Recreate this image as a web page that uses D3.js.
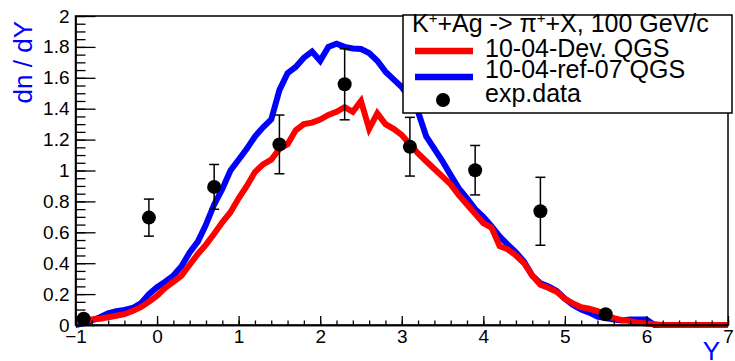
<!DOCTYPE html>
<meta charset="utf-8">
<body style="margin:0;background:#fff">
<svg width="735" height="361"></svg>

<script src="https://cdn.jsdelivr.net/npm/d3@7/dist/d3.min.js"></script>
<script>

// rapidity bin positions
var rapidity = [-1.0,-0.9,-0.8,-0.7,-0.6,-0.5,-0.4,-0.3,-0.2,-0.1,
    0.0,0.1,0.2,0.3,0.4,0.5,0.6,0.7,0.8,0.9,
    1.0,1.1,1.2,1.3,1.4,1.5,1.6,1.7,1.8,1.9,
    2.0,2.1,2.2,2.3,2.4,2.5,2.6,2.7,2.8,2.9,
    3.0,3.1,3.2,3.3,3.4,3.5,3.6,3.7,3.8,3.9,
    4.0,4.1,4.2,4.3,4.4,4.5,4.6,4.7,4.8,4.9,
    5.0,5.1,5.2,5.3,5.4,5.5,5.6,5.7,5.8,5.9,
    6.0,6.1,6.2,6.3,6.4,6.5,6.6,6.7,6.8,6.9,7.0];

// 10-04-ref-07 QGS (blue)
var refQGS = [0.0,0.01,0.03,0.05,0.076,0.09,0.097,0.11,0.14,0.2,
    0.245,0.28,0.32,0.38,0.47,0.54,0.65,0.78,0.88,1.0,
    1.07,1.14,1.22,1.28,1.33,1.52,1.63,1.67,1.73,1.77,
    1.71,1.8,1.82,1.8,1.79,1.786,1.76,1.71,1.64,1.59,
    1.54,1.47,1.38,1.22,1.14,1.06,0.97,0.885,0.82,0.75,
    0.7,0.64,0.573,0.52,0.47,0.41,0.32,0.27,0.25,0.22,
    0.17,0.13,0.1,0.08,0.055,0.045,0.035,0.03,0.035,0.035,
    0.035,0.0,0.0,0.0,0.0,0.0,0.0,0.0,0.0,0.0,0.0];

// 10-04-Dev. QGS (red)
var devQGS = [0.02,0.03,0.035,0.04,0.05,0.06,0.07,0.09,0.115,0.15,
    0.19,0.24,0.28,0.32,0.39,0.46,0.52,0.59,0.665,0.73,
    0.82,0.9,0.99,1.04,1.07,1.14,1.17,1.26,1.3,1.31,
    1.33,1.36,1.38,1.41,1.38,1.45,1.27,1.37,1.3,1.27,
    1.23,1.17,1.11,1.06,1.01,0.96,0.91,0.84,0.78,0.72,
    0.66,0.63,0.51,0.49,0.45,0.4,0.32,0.26,0.24,0.215,
    0.17,0.14,0.115,0.105,0.09,0.065,0.045,0.032,0.025,0.015,
    0.01,0.005,0.0,0.0,0.0,0.0,0.0,0.0,0.0,0.0,0.0];

// exp.data
var expY   = [-0.9, -0.1, 0.7, 1.5, 2.3, 3.1, 3.9, 4.7, 5.5];
var expVal = [0.04, 0.695, 0.894, 1.169, 1.558, 1.154, 1.002, 0.736, 0.07];
var expErr = [0.02, 0.12, 0.145, 0.19, 0.23, 0.19, 0.16, 0.22, 0.02];

var xTicks = [-1, 0, 1, 2, 3, 4, 5, 6, 7];
var xTickLabels = ["\u22121", "0", "1", "2", "3", "4", "5", "6", "7"];
var yTicks = [0, 0.2, 0.4, 0.6, 0.8, 1, 1.2, 1.4, 1.6, 1.8, 2];
var yTickLabels = ["0", "0.2", "0.4", "0.6", "0.8", "1", "1.2", "1.4", "1.6", "1.8", "2"];

var svg = d3.select("svg"),
    font = "'Liberation Sans', Arial, Helvetica, sans-serif";

var x = d3.scaleLinear().domain([-1, 7]).range([75.5, 728]),
    y = d3.scaleLinear().domain([0, 2]).range([325, 16]);

// curves
var line = d3.line()
    .x(function(d) { return x(d[0]); })
    .y(function(d) { return y(d[1]); });

function pairs(vals) {
    return rapidity.map(function(r, i) { return [r, vals[i]]; });
}

svg.append("path")
    .datum(pairs(refQGS))
    .attr("d", line)
    .attr("fill", "none")
    .attr("stroke", "#0000ff")
    .attr("stroke-width", 6);

svg.append("path")
    .datum(pairs(devQGS))
    .attr("d", line)
    .attr("fill", "none")
    .attr("stroke", "#ff0000")
    .attr("stroke-width", 6);

// minor ticks
svg.append("g")
    .attr("transform", "translate(75.5,0)")
    .call(d3.axisLeft(y).ticks(50).tickSize(-10).tickSizeOuter(0).tickFormat(""));
svg.append("g")
    .attr("transform", "translate(0,325)")
    .call(d3.axisBottom(x).ticks(40).tickSize(-4.5).tickSizeOuter(0).tickFormat(""));

// major ticks + labels
var yAxis = svg.append("g")
    .attr("transform", "translate(75.5,0)")
    .call(d3.axisLeft(y).tickValues(yTicks).tickSize(-20).tickSizeOuter(0).tickPadding(6)
        .tickFormat(function(d, i) { return yTickLabels[i]; }));

var xAxis = svg.append("g")
    .attr("transform", "translate(0,325)")
    .call(d3.axisBottom(x).tickValues(xTicks).tickSize(-9).tickSizeOuter(0).tickPadding(5)
        .tickFormat(function(d, i) { return xTickLabels[i]; }));

svg.selectAll(".tick text")
    .attr("font-family", font)
    .attr("font-size", 19)
    .attr("fill", "#000");
svg.selectAll(".tick line, .domain").attr("stroke", "#000").attr("stroke-width", 1.3);

// frame
svg.append("rect")
    .attr("x", 75.5).attr("y", 16)
    .attr("width", 728 - 75.5).attr("height", 325 - 16)
    .attr("fill", "none")
    .attr("stroke", "#000")
    .attr("stroke-width", 1.5);

// exp data points with error bars
var pts = svg.append("g");
expY.forEach(function(r, i) {
    var g = pts.append("g");
    var lo = expVal[i] - expErr[i], hi = expVal[i] + expErr[i];
    g.append("line")
        .attr("x1", x(r)).attr("x2", x(r))
        .attr("y1", y(lo)).attr("y2", y(hi))
        .attr("stroke", "#000").attr("stroke-width", 1.5);
    [lo, hi].forEach(function(v) {
        g.append("line")
            .attr("x1", x(r) - 5).attr("x2", x(r) + 5)
            .attr("y1", y(v)).attr("y2", y(v))
            .attr("stroke", "#000").attr("stroke-width", 1.5);
    });
    g.append("circle")
        .attr("cx", x(r)).attr("cy", y(expVal[i]))
        .attr("r", 7).attr("fill", "#000");
});

// axis titles
svg.append("text")
    .attr("transform", "translate(32,21) rotate(-90)")
    .attr("text-anchor", "end")
    .attr("font-family", font)
    .attr("font-size", 26)
    .attr("fill", "#0000ff")
    .text("dn / dY");

svg.append("text")
    .attr("x", 720).attr("y", 360)
    .attr("text-anchor", "end")
    .attr("font-family", font)
    .attr("font-size", 26)
    .attr("fill", "#0000ff")
    .text("Y");

// legend
var leg = svg.append("g");
leg.append("rect")
    .attr("x", 403).attr("y", 15)
    .attr("width", 329).attr("height", 98)
    .attr("fill", "#fff")
    .attr("stroke", "#000")
    .attr("stroke-width", 1.5);

var title = leg.append("text")
    .attr("x", 412).attr("y", 32)
    .attr("font-family", font)
    .attr("font-size", 25)
    .attr("fill", "#000");
title.append("tspan").text("K");
title.append("tspan").attr("dy", -9).attr("font-size", 15).text("+");
title.append("tspan").attr("dy", 9).text("+Ag -> \u03c0");
title.append("tspan").attr("dy", -9).attr("font-size", 15).text("+");
title.append("tspan").attr("dy", 9).text("+X, 100 GeV/c");

var legendRows = [
    {label: "10-04-Dev. QGS", color: "#ff0000", yLine: 51, yText: 57},
    {label: "10-04-ref-07 QGS", color: "#0000ff", yLine: 77, yText: 78}
];
legendRows.forEach(function(r) {
    leg.append("line")
        .attr("x1", 415).attr("x2", 473)
        .attr("y1", r.yLine).attr("y2", r.yLine)
        .attr("stroke", r.color).attr("stroke-width", 6.5);
    leg.append("text")
        .attr("x", 485).attr("y", r.yText)
        .attr("font-family", font)
        .attr("font-size", 25)
        .attr("fill", "#000")
        .text(r.label);
});
leg.append("circle").attr("cx", 443).attr("cy", 100).attr("r", 7).attr("fill", "#000");
leg.append("text")
    .attr("x", 485).attr("y", 102)
    .attr("font-family", font)
    .attr("font-size", 25)
    .attr("fill", "#000")
    .text("exp.data");

</script>
</body>
